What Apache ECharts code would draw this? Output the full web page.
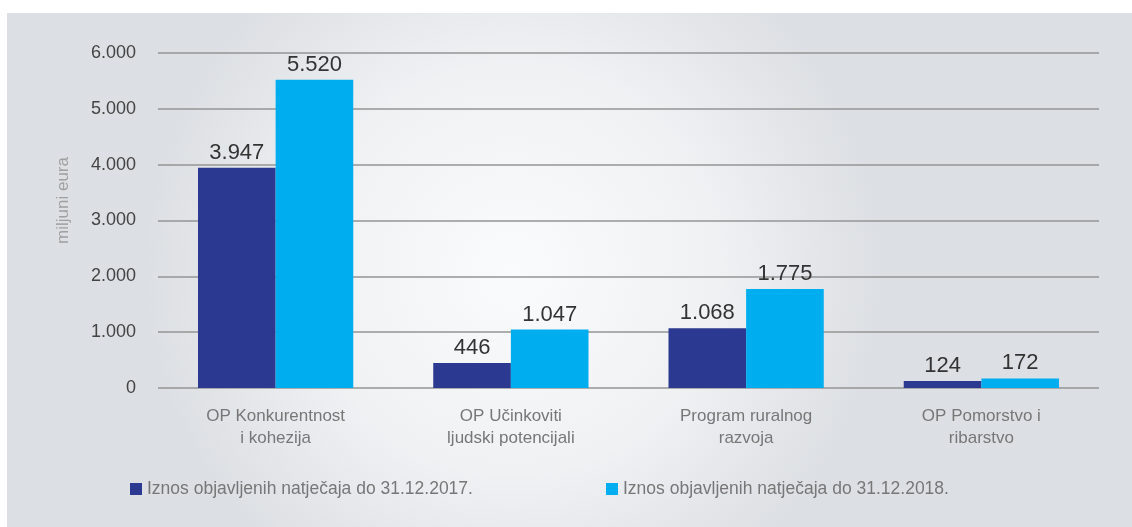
<!DOCTYPE html>
<html>
<head>
<meta charset="utf-8">
<script src="https://cdn.jsdelivr.net/npm/echarts@6/dist/echarts.min.js"></script>
<style>
    html, body { margin: 0; padding: 0; background: #fff; }
    #main { width: 1132px; height: 527px; }
</style>
</head>
<body>
<div id="main"></div>
<script>
const categories = [
    'OP Konkurentnost\ni kohezija',
    'OP Učinkoviti\nljudski potencijali',
    'Program ruralnog\nrazvoja',
    'OP Pomorstvo i\nribarstvo'
];
const seriesNames = [
    'Iznos objavljenih natječaja do 31.12.2017.',
    'Iznos objavljenih natječaja do 31.12.2018.'
];
const values2017 = [3947, 446, 1068, 124];
const values2018 = [5520, 1047, 1775, 172];
const yTicks = [0, 1000, 2000, 3000, 4000, 5000, 6000];

const font = "'Liberation Sans', 'DejaVu Sans', sans-serif";

function fmt(v) {
    // hrvatski format: točka za tisućice
    return String(v).replace(/\B(?=(\d{3})+(?!\d))/g, '.');
}

let chartDom = document.getElementById('main');
let myChart = echarts.init(chartDom);
let option = {
    animation: false,
    textStyle: { fontFamily: font },
    graphic: [{
        type: 'rect',
        z: -10,
        silent: true,
        shape: { x: 7, y: 13, width: 1125, height: 514 },
        style: {
            fill: {
                type: 'radial', x: 0.45, y: 0.5, r: 0.72,
                colorStops: [
                    { offset: 0, color: '#fafbfc' },
                    { offset: 0.55, color: '#eff1f3' },
                    { offset: 1, color: '#dcdfe3' }
                ]
            }
        }
    }],
    legend: [{
        data: [seriesNames[0]],
        left: 125, top: 475,
        icon: 'rect', itemWidth: 12, itemHeight: 12, itemGap: 7,
        textStyle: { color: '#777', fontSize: 17.5, fontFamily: font }
    }, {
        data: [seriesNames[1]],
        left: 601, top: 475,
        icon: 'rect', itemWidth: 12, itemHeight: 12,
        textStyle: { color: '#777', fontSize: 17.5, fontFamily: font }
    }],
    grid: { left: 158, right: 33, top: 53, bottom: 139 },
    xAxis: {
        type: 'category',
        data: categories,
        axisLine: { show: false },
        axisTick: { show: false },
        axisLabel: { color: '#777', fontSize: 17, lineHeight: 22, margin: 17, fontFamily: font }
    },
    yAxis: {
        type: 'value',
        min: 0, max: 6000, interval: 1000,
        name: 'miljuni eura',
        nameLocation: 'middle',
        nameGap: 86,
        nameRotate: 90,
        nameTextStyle: { color: '#a0a0a0', fontSize: 17, fontFamily: font, padding: [0, 0, 0, 40] },
        axisLabel: {
            color: '#444', fontSize: 18, margin: 22, fontFamily: font,
            formatter: v => yTicks.includes(v) ? fmt(v) : ''
        },
        splitLine: { lineStyle: { color: '#959595', width: 1.6 } }
    },
    series: [{
        name: seriesNames[0],
        type: 'bar',
        data: values2017,
        barGap: '0%',
        barCategoryGap: '34%',
        itemStyle: { color: '#2b3990' },
        label: {
            show: true, position: 'top', distance: 4,
            color: '#333', fontSize: 22, fontFamily: font,
            formatter: p => fmt(p.value)
        }
    }, {
        name: seriesNames[1],
        type: 'bar',
        data: values2018,
        itemStyle: { color: '#00aeef' },
        label: {
            show: true, position: 'top', distance: 4,
            color: '#333', fontSize: 22, fontFamily: font,
            formatter: p => fmt(p.value)
        }
    }]
};
option && myChart.setOption(option);
</script>
</body>
</html>
